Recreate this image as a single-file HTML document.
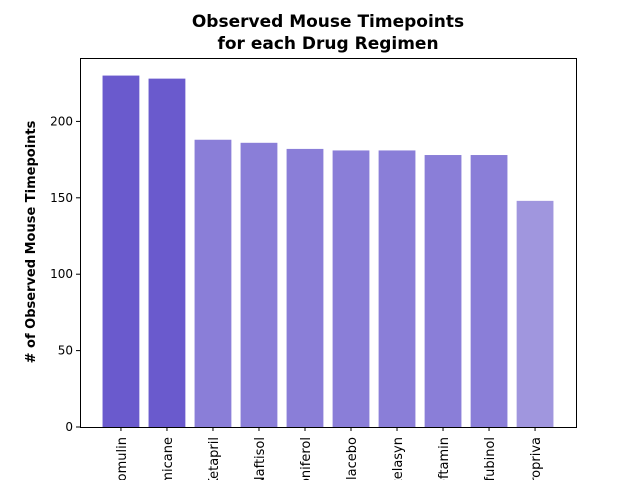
<!DOCTYPE html>
<html><head><meta charset="utf-8"><style>
body{margin:0;background:#fff;width:640px;height:480px;overflow:hidden}
svg{display:block;font-family:"DejaVu Sans","Liberation Sans",sans-serif;overflow:hidden}
</style></head><body>
<svg id="c" width="640" height="480">
<text x="328" y="27" text-anchor="middle" font-size="17" font-weight="bold">Observed Mouse Timepoints</text>
<text x="328" y="49" text-anchor="middle" font-size="17" font-weight="bold">for each Drug Regimen</text>
<text transform="translate(35,242) rotate(-90)" text-anchor="middle" font-size="13" font-weight="bold"># of Observed Mouse Timepoints</text>
<g id="bars"></g><g id="yt"></g>
<svg x="0" y="427" width="640" height="53" viewBox="0 427 640 53" overflow="hidden"><g id="xt"></g></svg>
<rect x="80.5" y="58.5" width="496" height="369" fill="none" stroke="#000" stroke-width="1"/>
</svg>
<script>
const categories=["Capomulin","Ramicane","Ketapril","Naftisol","Zoniferol","Placebo","Stelasyn","Ceftamin","Infubinol","Propriva"];
const values=[230,228,188,186,182,181,181,178,178,148];
const colors=["#6a5acd","#6a5acd","#8a7ed8","#8a7ed8","#8a7ed8","#8a7ed8","#8a7ed8","#8a7ed8","#8a7ed8","#a096de"];
const yTicks=[0,50,100,150,200];
const NS="http://www.w3.org/2000/svg";
const L=80,R=576,T=58,B=427;
const xmin=-0.89,xmax=9.89,ymax=241.5;
const x=i=>L+(i-xmin)/(xmax-xmin)*(R-L);
const y=v=>B-v/ymax*(B-T);
const bw=0.8*(R-L)/(xmax-xmin);
function mk(t,a,p){const e=document.createElementNS(NS,t);for(const k in a)e.setAttribute(k,a[k]);p.appendChild(e);return e;}
const gb=document.getElementById('bars'),gy=document.getElementById('yt'),gx=document.getElementById('xt');
values.forEach((v,i)=>{
 const r=mk('rect',{x:x(i)-bw/2,y:y(v),width:bw,height:B-y(v),fill:colors[i]},gb);
 
 
 mk('line',{x1:x(i),x2:x(i),y1:B,y2:B+4,stroke:'#000'},gx);
 const t=mk('text',{transform:`translate(${x(i)+5},437) rotate(-90)`,'text-anchor':'end','font-size':'13'},gx);
 t.textContent=categories[i];
 
 
});
yTicks.forEach(v=>{
 mk('line',{x1:L-4,x2:L,y1:y(v),y2:y(v),stroke:'#000'},gy);
 const t=mk('text',{x:L-7,y:y(v)+4,'text-anchor':'end','font-size':'12'},gy);
 t.textContent=v;
 
 
});
</script>
</body></html>
